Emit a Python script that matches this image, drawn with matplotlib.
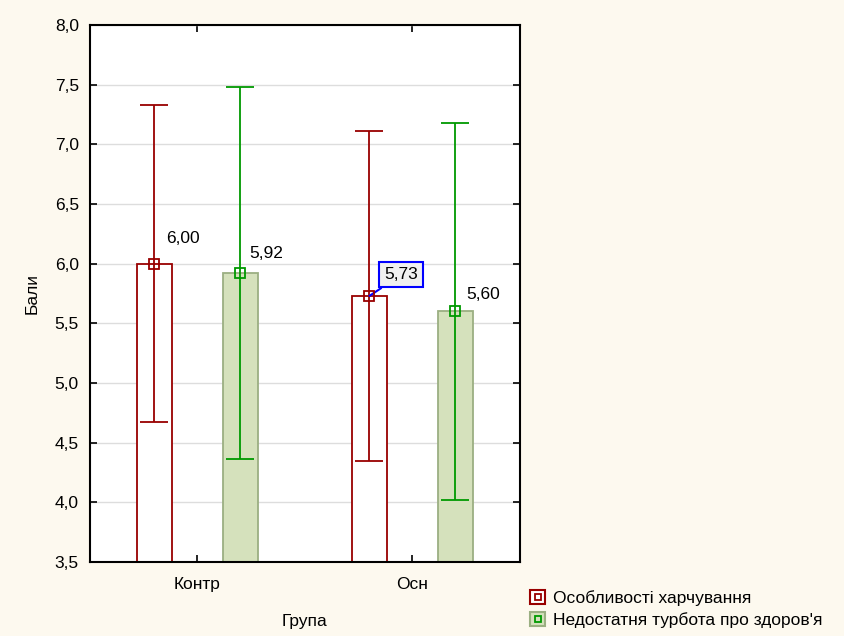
import matplotlib.pyplot as plt
import numpy as np
from matplotlib.patches import Rectangle
from matplotlib.lines import Line2D

plt.rcParams['font.family'] = ['Liberation Sans', 'DejaVu Sans']

groups = ['Контр', 'Осн']
series = ['Особливості харчування', 'Недостатня турбота про здоров\'я']
means_food = [6.00, 5.73]
err_food = [1.33, 1.38]
means_care = [5.92, 5.60]
err_care = [1.56, 1.58]
yticks = [3.5, 4.0, 4.5, 5.0, 5.5, 6.0, 6.5, 7.0, 7.5, 8.0]

red = '#990000'
green = '#009900'
green_fill = '#D5E1BC'
green_edge = '#9BAF82'
bg = '#FDF9EF'
fs = 12.5

fig = plt.figure(figsize=(8.44, 6.36), dpi=100, facecolor=bg)
ax = fig.add_axes([0.1066, 0.1164, 0.5095, 0.8443])
ax.set_facecolor('white')

x = np.arange(len(groups))
off = 0.2
w = 0.163
base = 3.5

ax.bar(x - off, np.array(means_food) - base, w, bottom=base,
       facecolor='white', edgecolor=red, linewidth=1.3, zorder=2)
ax.bar(x + off, np.array(means_care) - base, w, bottom=base,
       facecolor=green_fill, edgecolor=green_edge, linewidth=1.3, zorder=2)
ax.errorbar(x - off, means_food, yerr=err_food, fmt='s', color=red,
            mfc='none', mec=red, ms=7, mew=1.3, elinewidth=1.3,
            capsize=10, capthick=1.3, zorder=3)
ax.errorbar(x + off, means_care, yerr=err_care, fmt='s', color=green,
            mfc='none', mec=green, ms=7, mew=1.3, elinewidth=1.3,
            capsize=10, capthick=1.3, zorder=3)

# value labels
fmt = lambda v: f'{v:.2f}'.replace('.', ',')
ax.text(x[0] - off + 0.055, means_food[0] + 0.17, fmt(means_food[0]), fontsize=fs)
ax.text(x[0] + off + 0.04, means_care[0] + 0.13, fmt(means_care[0]), fontsize=fs)
ax.annotate(fmt(means_food[1]), xy=(x[1] - off, means_food[1]),
            xytext=(x[1] - off + 0.07, means_food[1] + 0.14), fontsize=fs,
            bbox=dict(boxstyle='square,pad=0.3', fc='#F0F0F0', ec='#0000FF', lw=1.5),
            arrowprops=dict(arrowstyle='-', color='#0000FF', lw=1.5,
                            shrinkA=0, shrinkB=0))
ax.text(x[1] + off + 0.05, means_care[1] + 0.1, fmt(means_care[1]), fontsize=fs)

ax.set_xlim(-0.5, 1.5)
ax.set_ylim(3.5, 8.0)
ax.set_xticks(x)
ax.set_xticklabels(groups, fontsize=fs)
ax.set_yticks(yticks)
ax.set_yticklabels([f'{t:.1f}'.replace('.', ',') for t in yticks], fontsize=fs)
ax.tick_params(direction='in', length=5, width=1.2, top=True, right=True, pad=8)
ax.tick_params(axis='x', pad=11)
ax.grid(axis='y', color='#DDDDDD', linewidth=1, zorder=0)
ax.set_axisbelow(True)
for s in ax.spines.values():
    s.set_linewidth(1.5)

ax.set_xlabel('Група', fontsize=fs, labelpad=16)
ax.set_ylabel('Бали', fontsize=fs, labelpad=11)

h1 = (Rectangle((0, 0), 1, 1, fc='white', ec=red, lw=1.5),
      Line2D([], [], marker='s', ls='none', mfc='none', mec=red, ms=5, mew=1.3))
h2 = (Rectangle((0, 0), 1, 1, fc=green_fill, ec=green_edge, lw=1.5),
      Line2D([], [], marker='s', ls='none', mfc='none', mec=green, ms=5, mew=1.3))
fig.legend([h1, h2], series, loc='lower left', bbox_to_anchor=(0.61, -0.012),
           frameon=False, fontsize=fs, handlelength=0.85, handleheight=0.85,
           handletextpad=0.45, labelspacing=0.35)

fig.savefig('out.png', dpi=100, facecolor=bg)
